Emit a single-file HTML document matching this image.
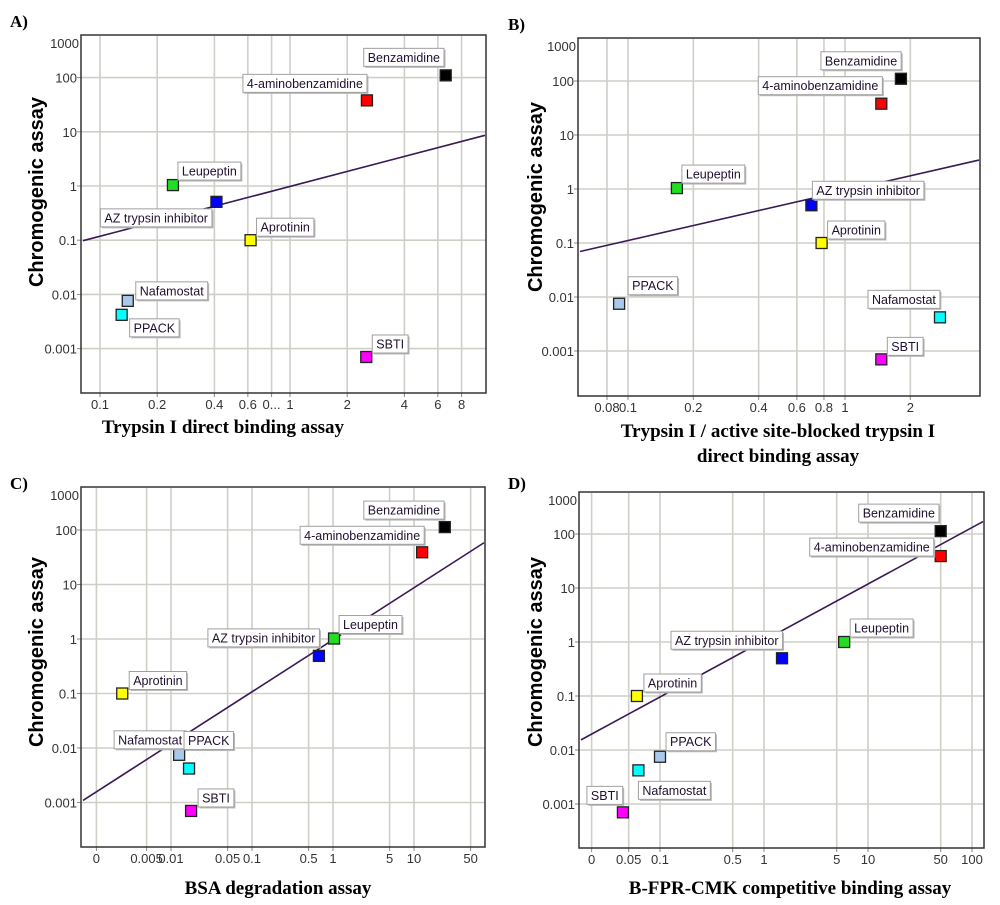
<!DOCTYPE html>
<html><head><meta charset="utf-8"><style>
html,body{margin:0;padding:0;background:#fff;width:1000px;height:905px;overflow:hidden}
svg{display:block}
.tick{font-family:"Liberation Sans",sans-serif;font-size:13px;fill:#333}
.lbl{font-family:"Liberation Sans",sans-serif;font-size:12.5px;fill:#201030}
.ytitle{font-family:"Liberation Sans",sans-serif;font-size:20px;font-weight:bold;fill:#000}
.xtitle{font-family:"Liberation Serif",serif;font-size:19px;font-weight:bold;fill:#000}
.letter{font-family:"Liberation Serif",serif;font-size:17px;font-weight:bold;fill:#000}
</style></head><body>
<svg id="chart" width="1000" height="905" xmlns="http://www.w3.org/2000/svg"></svg>
<script>
const names = ["Benzamidine","4-aminobenzamidine","Leupeptin","AZ trypsin inhibitor","Aprotinin","Nafamostat","PPACK","SBTI"];
const yTicks = [1000,100,10,1,0.1,0.01,0.001];
const yTickLabels = ["1000","100","10","1","0.1","0.01","0.001"];

const aX = [6.6,2.54,0.242,0.41,0.62,0.14,0.13,2.52];
const aY = [110,38,1.04,0.51,0.1,0.0076,0.0042,0.0007];
const aColors = ["#000","#f00","#22dd22","#0000ff","#ffff00","#a8c8ec","#00ffff","#ff00ff"];
const aXTicks = [0.1,0.2,0.4,0.6,0.8,1,2,4,6,8];
const aXTickLabels = ["0.1","0.2","0.4","0.6","0...","1","2","4","6","8"];
const aFit = [0.919,-0.008];

const bX = [1.81,1.47,0.168,0.70,0.78,2.74,0.091,1.47];
const bY = [110,38,1.04,0.5,0.1,0.0042,0.0075,0.0007];
const bColors = ["#000","#f00","#22dd22","#0000ff","#ffff00","#00ffff","#a8c8ec","#ff00ff"];
const bXTicks = [0.08,0.1,0.2,0.4,0.6,0.8,1,2];
const bXTickLabels = ["0.08","0.1","0.2","0.4","0.6","0.8","1","2"];
const bFit = [0.921,-0.033];

const cX = [24,12.6,1.03,0.67,0.0025,0.0126,0.0167,0.0177];
const cY = [113,39,1.02,0.49,0.1,0.0075,0.0042,0.0007];
const cColors = ["#000","#f00","#22dd22","#0000ff","#ffff00","#a8c8ec","#00ffff","#ff00ff"];
const cXTicks = [0.0012,0.005,0.01,0.05,0.1,0.5,1,5,10,50];
const cXTickLabels = ["0","0.005","0.01","0.05","0.1","0.5","1","5","10","50"];
const cFit = [0.955,-0.014];

const dX = [50,50,5.9,1.49,0.06,0.062,0.1,0.044];
const dY = [113,39,1.0,0.5,0.1,0.0042,0.0075,0.0007];
const dColors = ["#000","#f00","#22dd22","#0000ff","#ffff00","#00ffff","#a8c8ec","#ff00ff"];
const dXTicks = [0.022,0.05,0.1,0.5,1,5,10,50,100];
const dXTickLabels = ["0","0.05","0.1","0.5","1","5","10","50","100"];
const dFit = [1.046,0.028];

const NS = "http://www.w3.org/2000/svg";
const svg = document.getElementById("chart");
function mk(tag, attrs, parent){const e=document.createElementNS(NS,tag);for(const k in attrs)e.setAttribute(k,attrs[k]);(parent||svg).appendChild(e);return e;}

function panel(cfg){
  const g = mk("g",{});
  
  
  const L=cfg.box[0],T=cfg.box[1],R=cfg.box[2],B=cfg.box[3];
  const sx = v => cfg.x0 + cfg.xd*Math.log10(v);
  const sy = v => cfg.y0 - cfg.yd*Math.log10(v);
  cfg.xTicks.forEach((v,i)=>{
    const x=sx(v);
    const gl=mk("line",{x1:x,x2:x,y1:T+1,y2:B,stroke:"#cfcfc8","stroke-width":1.6},g);
    
    
    mk("line",{x1:x,x2:x,y1:B,y2:B+4,stroke:"#888","stroke-width":1},g);
    const t=mk("text",{x:x,y:B+16,"text-anchor":"middle",class:"tick"},g);
    t.textContent=cfg.xLabels[i];
    
    
  });
  yTicks.forEach((v,i)=>{
    let y=sy(v);
    const t=mk("text",{"text-anchor":"end",class:"tick"},g);
    t.textContent=yTickLabels[i];
    
    
    if(y<T){ t.setAttribute("x",L-2); t.setAttribute("y",T+13); return; }
    const gl=mk("line",{x1:L,x2:R,y1:y,y2:y,stroke:"#cfcfc8","stroke-width":1.6},g);
    
    
    mk("line",{x1:L-4,x2:L,y1:y,y2:y,stroke:"#888","stroke-width":1},g);
    t.setAttribute("x",L-4); t.setAttribute("y",y+5);
  });
  const xa=(L+2-cfg.x0)/cfg.xd, xb=(R-1-cfg.x0)/cfg.xd;
  const ya=cfg.fit[0]*xa+cfg.fit[1], yb=cfg.fit[0]*xb+cfg.fit[1];
  const fl=mk("line",{x1:sx(Math.pow(10,xa)),y1:sy(Math.pow(10,ya)),x2:sx(Math.pow(10,xb)),y2:sy(Math.pow(10,yb)),stroke:"#3a1a55","stroke-width":1.6},g);
  
  
  cfg.xs.forEach((xv,i)=>{
    const px=sx(xv), py=sy(cfg.ys[i]);
    const r=mk("rect",{x:px-5.5,y:py-5.5,width:11,height:11,fill:cfg.colors[i],stroke:"#222","stroke-width":1.3},g);
    
    
    const off=cfg.offs[i];
    const lx=px+off[0], ly=py+off[1];
    const lg=mk("g",{},g);
    
    
    const sh=mk("rect",{x:lx+1.5,y:ly+1.5,width:10,height:18,fill:"#b8b8b8"},lg);
    const bx=mk("rect",{x:lx,y:ly,width:10,height:18,fill:"#fff",stroke:"#a0a0a0","stroke-width":1},lg);
    const t=mk("text",{x:lx+4,y:ly+13.5,class:"lbl"},lg);
    t.textContent=names[i];
    const w=t.getComputedTextLength()+8;
    bx.setAttribute("width",w); sh.setAttribute("width",w);
  });
  const fr=mk("rect",{x:L,y:T,width:R-L,height:B-T,fill:"none",stroke:"#333","stroke-width":1.5},g);
  
  
  const yt=mk("text",{x:0,y:0,"text-anchor":"middle",class:"ytitle",transform:`translate(${cfg.ytx},${cfg.yty}) rotate(-90)`},g);
  yt.textContent="Chromogenic assay";
  
  
  cfg.xtitle.forEach((s,k)=>{
    const xt=mk("text",{x:cfg.xtx,y:cfg.xty+k*25,"text-anchor":"middle",class:"xtitle"},g);
    xt.textContent=s;
    
    
  });
  const lt=mk("text",{x:cfg.lx,y:cfg.ly,class:"letter"},g);
  lt.textContent=cfg.letter;
  
  
}

panel({id:"a",box:[81,35,486,393],x0:290,xd:190,y0:186,yd:54.2,xTicks:aXTicks,xLabels:aXTickLabels,xs:aX,ys:aY,colors:aColors,fit:aFit,
  offs:[[-82,-27],[-124,-26],[5,-23],[-116,7],[6,-22],[8,-19],[8,4],[6,-22]],
  ytx:43,yty:192,xtitle:["Trypsin I direct binding assay"],xtx:223,xty:433,letter:"A)",lx:10,ly:27});
panel({id:"b",box:[578,38,980,396],x0:845,xd:217,y0:189,yd:54,xTicks:bXTicks,xLabels:bXTickLabels,xs:bX,ys:bY,colors:bColors,fit:bFit,
  offs:[[-80,-27],[-123,-27],[5,-23],[1,-24],[6,-22],[-72,-27],[9,-27],[6,-22]],
  ytx:542,yty:197,xtitle:["Trypsin I / active site-blocked trypsin I","direct binding assay"],xtx:778,xty:437,letter:"B)",lx:508,ly:30});
panel({id:"c",box:[81,487,485,847],x0:333,xd:81,y0:639,yd:54.5,xTicks:cXTicks,xLabels:cXTickLabels,xs:cX,ys:cY,colors:cColors,fit:cFit,
  offs:[[-81,-26],[-122,-26],[5,-23],[-111,-27],[7,-22],[-65,-24],[-5,-37],[7,-22]],
  ytx:43,yty:652,xtitle:["BSA degradation assay"],xtx:278,xty:894,letter:"C)",lx:10,ly:489});
panel({id:"d",box:[579,492,984,848],x0:764,xd:104,y0:642,yd:54,xTicks:dXTicks,xLabels:dXTickLabels,xs:dX,ys:dY,colors:dColors,fit:dFit,
  offs:[[-82,-27],[-131,-18],[6,-23],[-111,-27],[7,-22],[0,11],[6,-24],[-36,-26]],
  ytx:542,yty:652,xtitle:["B-FPR-CMK  competitive binding assay"],xtx:790,xty:894,letter:"D)",lx:508,ly:489});
</script>
</body></html>
